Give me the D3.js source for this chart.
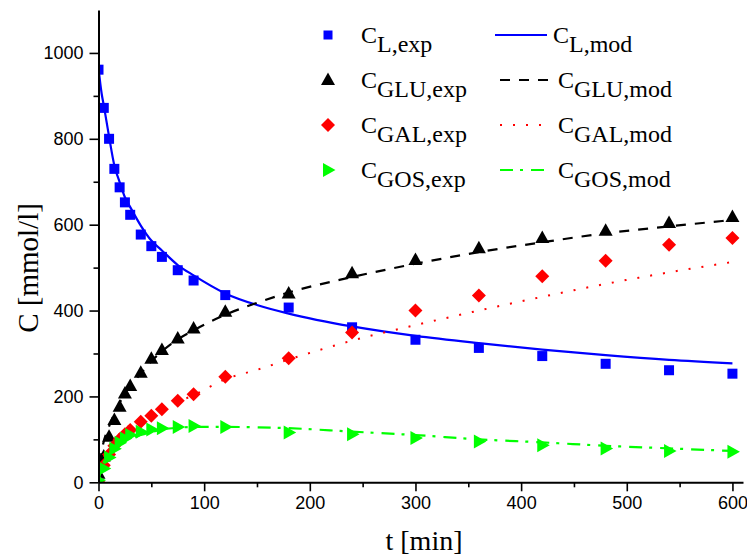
<!DOCTYPE html>
<html>
<head>
<meta charset="utf-8">
<script src="https://cdn.jsdelivr.net/npm/d3@7"></script>
<style>
  html, body { margin: 0; padding: 0; background: #fff; }
  svg { display: block; }
</style>
</head>
<body>
<svg id="chart" width="747" height="556"></svg>
<script>
// ---------- DATA ----------
const tExp = [0, 5, 10, 15, 20, 25, 30, 40, 50, 60, 75, 90, 120, 180, 240, 300, 360, 420, 480, 540, 600];
const L_exp   = [961, 872, 800, 730, 687, 652, 623, 577, 550, 525, 494, 470, 436, 407, 361, 332, 313, 294, 276, 261, 253];
const GLU_exp = [20, 60, 106, 145, 176, 207, 224, 255, 288, 308, 335, 358, 397, 440, 487, 518, 545, 569, 586, 604, 618];
const GAL_exp = [0, 40, 65, 85, 100, 112, 122, 141, 155, 170, 190, 205, 246, 289, 349, 400, 435, 480, 516, 553, 569];
const GOS_exp = [5, 32, 58, 78, 92, 102, 110, 118, 123, 126, 129, 131, 129, 116, 112, 103, 95, 86, 79, 73, 71];

const tMod = [0, 3, 5, 10, 15, 20, 25, 30, 40, 50, 60, 75, 90, 120, 150, 180, 240, 300, 360, 420, 480, 540, 600];
const L_mod   = [965, 905, 878, 805, 738, 699, 664, 641, 598, 563, 540, 506, 482, 440, 413, 393, 363, 341, 324, 309, 296, 285, 277];
const GLU_mod = [0, 72, 95, 130, 160, 185, 207, 225, 253, 282, 305, 333, 354, 390, 418, 442, 478, 509, 536, 559, 580, 596, 611];
const GAL_mod = [0, 44, 58, 80, 98, 113, 124, 133, 145, 158, 170, 187, 203, 240, 262, 286, 330, 366, 400, 432, 462, 489, 513];
const GOS_mod = [0, 38, 48, 65, 78, 88, 96, 102, 110, 117, 123, 127, 129, 129, 128, 126, 118, 110, 100, 93, 85, 79, 73];

const xTicks = [0, 100, 200, 300, 400, 500, 600];
const xMinor = [50, 150, 250, 350, 450, 550];
const yTicks = [0, 200, 400, 600, 800, 1000];
const yMinor = [100, 300, 500, 700, 900];

const legendExp = [["L", "exp"], ["GLU", "exp"], ["GAL", "exp"], ["GOS", "exp"]];
const legendMod = [["L", "mod"], ["GLU", "mod"], ["GAL", "mod"], ["GOS", "mod"]];

// ---------- SETUP ----------
const svg = d3.select("#chart");
const x = d3.scaleLinear().domain([0, 610]).range([98.5, 743]);
const y = d3.scaleLinear().domain([0, 1100]).range([482.3, 10]);

const series = [
  { exp: L_exp,   mod: L_mod,   color: "#0000ff", sym: "square",   dash: null,         lw: 2.2 },
  { exp: GLU_exp, mod: GLU_mod, color: "#000000", sym: "triangle", dash: "10,9",       lw: 2.2 },
  { exp: GAL_exp, mod: GAL_mod, color: "#ff0000", sym: "diamond",  dash: "2,11",       lw: 2 },
  { exp: GOS_exp, mod: GOS_mod, color: "#00ff00", sym: "right",    dash: "13,7,3,8",   lw: 2.2 }
];

function marker(sel, sym, color) {
  if (sym === "square") {
    sel.append("rect").attr("x", -5).attr("y", -5).attr("width", 10).attr("height", 10).attr("fill", color);
  } else if (sym === "triangle") {
    sel.append("path").attr("d", "M0,-7.5L7,5L-7,5Z").attr("fill", color);
  } else if (sym === "diamond") {
    sel.append("path").attr("d", "M0,-7L7,0L0,7L-7,0Z").attr("fill", color);
  } else if (sym === "right") {
    sel.append("path").attr("d", "M7.5,0L-5,-7L-5,7Z").attr("fill", color);
  }
}

svg.append("defs").append("clipPath").attr("id", "plotclip")
  .append("rect").attr("x", x(0)).attr("y", 0).attr("width", 747 - x(0)).attr("height", y(0));

const plot = svg.append("g").attr("clip-path", "url(#plotclip)");
const line = d3.line().x(d => x(d[0])).y(d => y(d[1])).curve(d3.curveMonotoneX);

series.forEach(s => {
  const g = plot.append("g");
  tExp.forEach((t, i) => {
    const m = g.append("g").attr("transform", `translate(${x(t)},${y(s.exp[i])})`);
    marker(m, s.sym, s.color);
  });
  g.append("path")
    .datum(tMod.map((t, i) => [t, s.mod[i]]))
    .attr("d", line)
    .attr("fill", "none")
    .attr("stroke", s.color)
    .attr("stroke-width", s.lw)
    .attr("stroke-dasharray", s.dash);
});

// ---------- AXES ----------
const axisFont = "'Liberation Sans', Arial, sans-serif";
svg.append("g").attr("transform", `translate(0,${y(0)})`)
  .call(d3.axisBottom(x).tickValues(xTicks).tickFormat(d3.format("d")).tickSize(9).tickPadding(5).tickSizeOuter(0));
svg.append("g").attr("transform", `translate(0,${y(0)})`)
  .call(d3.axisBottom(x).tickValues(xMinor).tickSize(5).tickFormat("").tickSizeOuter(0))
  .select(".domain").remove();
svg.append("g").attr("transform", `translate(${x(0)},0)`)
  .call(d3.axisLeft(y).tickValues(yTicks).tickFormat(d3.format("d")).tickSize(9).tickPadding(6).tickSizeOuter(0));
svg.append("g").attr("transform", `translate(${x(0)},0)`)
  .call(d3.axisLeft(y).tickValues(yMinor).tickSize(5).tickFormat("").tickSizeOuter(0))
  .select(".domain").remove();

svg.selectAll(".domain").attr("stroke", "#000").attr("stroke-width", 2);
svg.selectAll(".tick line").attr("stroke", "#000").attr("stroke-width", 1.6);
svg.selectAll(".tick text").attr("font-family", axisFont).attr("font-size", 18).attr("fill", "#000");

// axis titles
const serif = "'Liberation Serif', 'Times New Roman', serif";
svg.append("text").attr("x", 424).attr("y", 550).attr("text-anchor", "middle")
  .attr("font-family", serif).attr("font-size", 28).attr("fill", "#000").text("t [min]");
svg.append("text").attr("transform", "translate(38,268) rotate(-90)").attr("text-anchor", "middle")
  .attr("font-family", serif).attr("font-size", 29).attr("fill", "#000").text("C [mmol/l]");

// ---------- LEGEND ----------
const rowY = [35, 80, 125, 170];
const legend = svg.append("g");
function legendLabel(xp, yp, sub) {
  const t = legend.append("text").attr("x", xp).attr("y", yp + 8)
    .attr("font-family", serif).attr("font-size", 24).attr("fill", "#000");
  t.append("tspan").text("C");
  t.append("tspan").attr("dy", 9).text(sub[0] + "," + sub[1]);
}
series.forEach((s, i) => {
  const m = legend.append("g").attr("transform", `translate(328,${rowY[i]})`);
  if (s.sym === "square") {
    m.append("rect").attr("x", -4.5).attr("y", -4.5).attr("width", 9).attr("height", 9).attr("fill", s.color);
  } else {
    marker(m, s.sym, s.color);
  }
  legendLabel(361, rowY[i], legendExp[i]);
  const lx2 = [547, 552, 541, 545][i];
  legend.append("line").attr("x1", i === 0 ? 495 : 500).attr("x2", lx2)
    .attr("y1", rowY[i]).attr("y2", rowY[i])
    .attr("stroke", s.color).attr("stroke-width", s.lw).attr("stroke-dasharray", s.dash);
  legendLabel(i === 0 ? 553 : 558, rowY[i], legendMod[i]);
});
</script>
</body>
</html>
